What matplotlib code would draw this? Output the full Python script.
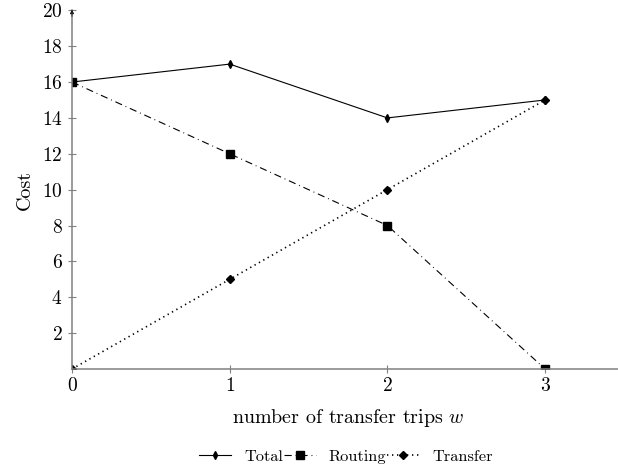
import matplotlib
matplotlib.use("Agg")
import matplotlib.pyplot as plt
from matplotlib.lines import Line2D

# data
trips = [0, 1, 2, 3]
total = [16, 17, 14, 15]
routing = [16, 12, 8, 0]
transfer = [0, 5, 10, 15]
y_ticks = [2, 4, 6, 8, 10, 12, 14, 16, 18, 20]

plt.rcParams["font.family"] = ["cmr10", "DejaVu Serif"]
plt.rcParams["mathtext.fontset"] = "cm"
plt.rcParams["axes.formatter.use_mathtext"] = True
plt.rcParams["font.size"] = 14

# line styles shared by plot and legend
styles = [
    dict(color="black", lw=0.8, ls="-", marker="d", ms=3.6),
    dict(color="black", lw=0.8, ls=(0, (6.5, 3.5, 0.8, 3.5)), marker="s", ms=5.6),
    dict(color="black", lw=1.2, ls=(0, (0.8, 2.2)), marker="D", ms=4.1),
]

fig = plt.figure(figsize=(6.18, 4.71), dpi=100)
ax = fig.add_axes([72 / 618, 102 / 471, 3.5 * 157.7 / 618, 358.7 / 471])

ax.plot(trips, total, **styles[0])
ax.plot(trips, routing, **styles[1])
ax.plot(trips, transfer, **styles[2])

ax.set_xlim(0, 3.5)
ax.set_ylim(0, 20)
ax.set_xticks(trips)
ax.set_yticks(y_ticks)

for s in ["top", "right"]:
    ax.spines[s].set_visible(False)
for s in ["left", "bottom"]:
    ax.spines[s].set_position(("data", 0))
    ax.spines[s].set_color("#808080")
    ax.spines[s].set_linewidth(1.1)
ax.tick_params(direction="inout", length=5.5, width=0.8, color="#808080",
               labelsize=14)
ax.tick_params(axis="x", pad=3.0)
ax.tick_params(axis="y", pad=4.0)
for t in ax.get_xticklines() + ax.get_yticklines():
    t.set_clip_on(False)

# arrow on top of y axis
ax.annotate("", xy=(0, 20.2), xytext=(0, 19.5), xycoords="data",
            arrowprops=dict(arrowstyle="-|>", color="#202020", lw=0.6,
                            mutation_scale=6), annotation_clip=False)

ax.set_xlabel("number of transfer trips $w$", fontsize=14.4)
ax.xaxis.set_label_coords(0.5, -0.107)
ax.set_ylabel("Cost", fontsize=14.4)
ax.yaxis.set_label_coords(-0.069, 0.5)

handles = [Line2D([], [], **st) for st in styles]
fig.legend(handles, ["Total", "Routing", "Transfer"], loc="center",
           bbox_to_anchor=(346 / 618, 1 - 456.5 / 471), ncol=3, frameon=False,
           fontsize=11.8, handlelength=1.95, columnspacing=0.05,
           handletextpad=0.8, borderpad=0.2)

fig.savefig("out.png", dpi=100)
